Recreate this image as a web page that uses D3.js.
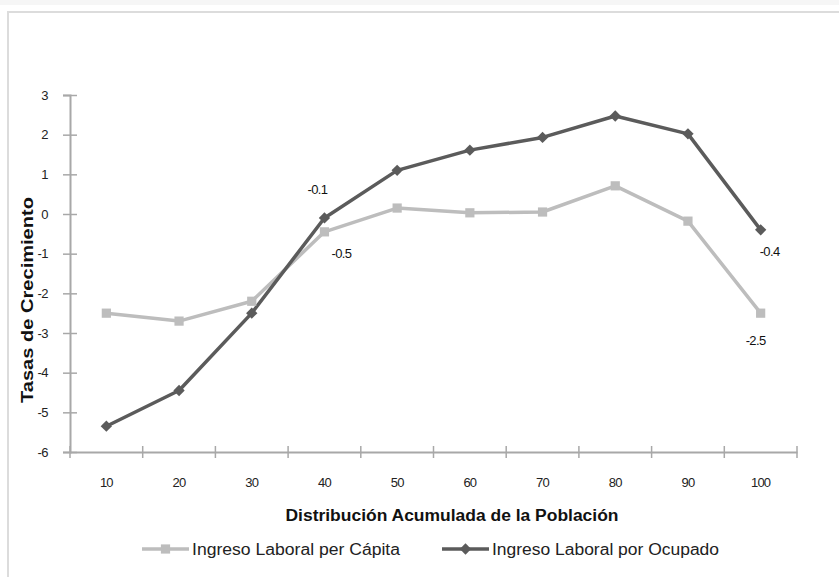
<!DOCTYPE html>
<html>
<head>
<meta charset="utf-8">
<script src="https://cdn.jsdelivr.net/npm/d3@7"></script>
<style>
  body { margin: 0; background: #fff; }
  svg { display: block; }
</style>
</head>
<body>
<div id="chart"></div>
<script>
const categories = ['10', '20', '30', '40', '50', '60', '70', '80', '90', '100'];
const perCapita = [-2.5, -2.7, -2.2, -0.45, 0.15, 0.03, 0.05, 0.71, -0.18, -2.5];
const porOcupado = [-5.35, -4.45, -2.5, -0.1, 1.1, 1.61, 1.93, 2.47, 2.02, -0.4];
const yTicks = [3, 2, 1, 0, -1, -2, -3, -4, -5, -6];
const seriesNames = ['Ingreso Laboral per Cápita', 'Ingreso Laboral por Ocupado'];
// labelled points: series index, category, text
const pointLabels = [
    { s: 1, cat: '40', text: '-0.1' },
    { s: 0, cat: '40', text: '-0.5' },
    { s: 1, cat: '100', text: '-0.4' },
    { s: 0, cat: '100', text: '-2.5' },
];

const width = 839;
const height = 577;
const margin = { top: 95, right: 42, bottom: 125, left: 70 };
const narrow = '"Liberation Sans Narrow", "Arial Narrow", "Liberation Sans", Arial, sans-serif';
const axisColor = '#a8a8a8';
const colors = ['#bdbdbd', '#5b5b5b'];

const svg = d3.select('#chart')
    .append('svg')
    .attr('width', width)
    .attr('height', height);

// faint top strip and chart frame
svg.append('rect')
    .attr('x', 0).attr('y', 0)
    .attr('width', width).attr('height', 5)
    .attr('fill', '#f6f6f6');
svg.append('rect')
    .attr('x', 8).attr('y', 12)
    .attr('width', width).attr('height', height)
    .attr('fill', 'none')
    .attr('stroke', '#dcdcdc')
    .attr('stroke-width', 2);

const xScale = d3.scaleBand()
    .domain(categories)
    .range([margin.left, width - margin.right])
    .padding(0);

const yScale = d3.scaleLinear()
    .domain([-6, 3])
    .range([height - margin.bottom, margin.top]);

const cx = c => xScale(c) + xScale.bandwidth() / 2;
const y0 = yScale(-6);

// y axis
const yAxis = svg.append('g')
    .attr('transform', `translate(${margin.left}, 0)`)
    .call(d3.axisLeft(yScale).tickValues(yTicks).tickSize(7).tickPadding(15).tickFormat(d => String(d)));
yAxis.select('.domain').attr('stroke', axisColor).attr('stroke-width', 2);
yAxis.selectAll('.tick line').attr('x1', 7).attr('stroke', axisColor).attr('stroke-width', 1.5);
yAxis.selectAll('.tick text')
    .attr('font-family', narrow)
    .attr('font-size', 13)
    .attr('letter-spacing', '-0.5px')
    .attr('fill', '#222');

// x axis
const xAxis = svg.append('g')
    .attr('transform', `translate(0, ${y0})`)
    .call(d3.axisBottom(xScale).tickSize(0).tickPadding(26));
xAxis.select('.domain').attr('stroke', axisColor).attr('stroke-width', 2);
xAxis.selectAll('.tick text')
    .attr('font-family', narrow)
    .attr('font-size', 13)
    .attr('letter-spacing', '-0.8px')
    .attr('fill', '#222');
xAxis.selectAll('.xtick')
    .data(categories.map(c => xScale(c)).concat([width - margin.right]))
    .enter()
    .append('line')
    .attr('x1', d => d).attr('x2', d => d)
    .attr('y1', -6).attr('y2', 6)
    .attr('stroke', axisColor)
    .attr('stroke-width', 1.5);

// axis titles
svg.append('text')
    .attr('x', 452).attr('y', 521)
    .attr('text-anchor', 'middle')
    .attr('font-family', narrow)
    .attr('font-weight', 'bold')
    .attr('font-size', 16)
    .attr('fill', '#111')
    .attr('textLength', 333)
    .attr('lengthAdjust', 'spacingAndGlyphs')
    .text('Distribución Acumulada de la Población');

svg.append('text')
    .attr('transform', 'translate(33, 300) rotate(-90)')
    .attr('text-anchor', 'middle')
    .attr('font-family', narrow)
    .attr('font-weight', 'bold')
    .attr('font-size', 16)
    .attr('fill', '#111')
    .attr('textLength', 206)
    .attr('lengthAdjust', 'spacingAndGlyphs')
    .text('Tasas de Crecimiento');

// series
const series = [perCapita, porOcupado];
const line = d3.line()
    .x((d, i) => cx(categories[i]))
    .y(d => yScale(d));

series.forEach((vals, s) => {
    svg.append('path')
        .datum(vals)
        .attr('d', line)
        .attr('fill', 'none')
        .attr('stroke', colors[s])
        .attr('stroke-width', 3.5)
        .attr('stroke-linejoin', 'round');
});

const squareSym = d3.symbol().type(d3.symbolSquare).size(85);
// excel-style diamond: a square turned 45 degrees
const diamondSym = d3.symbol().type(d3.symbolSquare).size(64);

svg.selectAll('.m0')
    .data(perCapita)
    .enter()
    .append('path')
    .attr('d', squareSym)
    .attr('transform', (d, i) => `translate(${cx(categories[i])}, ${yScale(d)})`)
    .attr('fill', colors[0]);

svg.selectAll('.m1')
    .data(porOcupado)
    .enter()
    .append('path')
    .attr('d', diamondSym)
    .attr('transform', (d, i) => `translate(${cx(categories[i])}, ${yScale(d)}) rotate(45)`)
    .attr('fill', colors[1]);

// point labels
const labelOffsets = [[-7, -24], [17, 26], [9, 26], [-5, 32]];
pointLabels.forEach((p, k) => {
    const v = series[p.s][categories.indexOf(p.cat)];
    svg.append('text')
        .attr('x', cx(p.cat) + labelOffsets[k][0])
        .attr('y', yScale(v) + labelOffsets[k][1])
        .attr('text-anchor', 'middle')
        .attr('font-family', narrow)
        .attr('font-size', 13)
        .attr('letter-spacing', '-0.6px')
        .attr('fill', '#111')
        .text(p.text);
});

// legend
const legendItems = [
    { x: 142, name: seriesNames[0], sym: squareSym, rot: 0, color: colors[0], tl: 208 },
    { x: 442, name: seriesNames[1], sym: diamondSym, rot: 45, color: colors[1], tl: 227 },
];
const legend = svg.append('g').attr('transform', 'translate(0, 549)');
legendItems.forEach(it => {
    legend.append('line')
        .attr('x1', it.x).attr('x2', it.x + 47)
        .attr('y1', 0).attr('y2', 0)
        .attr('stroke', it.color)
        .attr('stroke-width', 3.5);
    legend.append('path')
        .attr('d', it.sym)
        .attr('transform', `translate(${it.x + 23.5}, 0) rotate(${it.rot})`)
        .attr('fill', it.color);
    legend.append('text')
        .attr('x', it.x + 50)
        .attr('y', 6)
        .attr('font-family', narrow)
        .attr('font-size', 16)
        .attr('fill', '#222')
        .attr('textLength', it.tl)
        .attr('lengthAdjust', 'spacingAndGlyphs')
        .text(it.name);
});
</script>
</body>
</html>
